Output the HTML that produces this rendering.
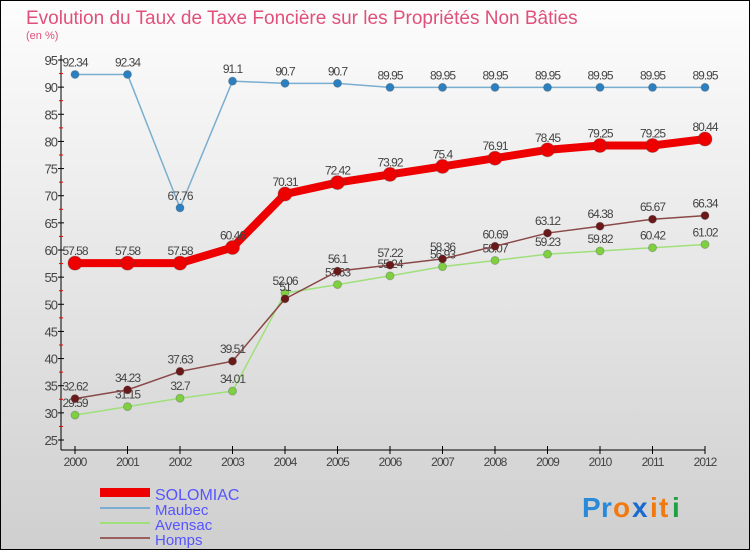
<!DOCTYPE html>
<html><head><meta charset="utf-8"><style>
body{margin:0}
svg text{font-family:"Liberation Sans",sans-serif}
</style></head><body>
<svg width="750" height="550" xmlns="http://www.w3.org/2000/svg">
<defs><linearGradient id="bg" x1="0" y1="0" x2="0" y2="1"><stop offset="0" stop-color="#fdfdfd"/><stop offset="1" stop-color="#cfcfcf"/></linearGradient></defs>
<rect x="0.5" y="0.5" width="749" height="549" fill="url(#bg)" stroke="#000"/>
<text x="26" y="24" font-size="19" fill="#e0507a">Evolution du Taux de Taxe Foncière sur les Propriétés Non Bâties</text>
<text x="26" y="39" font-size="11" fill="#e0507a">(en %)</text>
<g id="axes"></g>
<g id="series"></g>
<g>
<rect x="100" y="488" width="50" height="9" fill="#e00"/>
<text x="155" y="500" font-size="16" fill="#55f">SOLOMIAC</text>
<rect x="100" y="507" width="50" height="2" fill="#7aaed0"/>
<text x="155" y="515" font-size="15" fill="#55f">Maubec</text>
<rect x="100" y="522" width="50" height="2" fill="#9fe07a"/>
<text x="155" y="530" font-size="15" fill="#55f">Avensac</text>
<rect x="100" y="537" width="50" height="2" fill="#9a6060"/>
<text x="155" y="545" font-size="15" fill="#55f">Homps</text>
</g>
<g font-size="28" font-weight="bold">
<text x="582" y="517" fill="#2a8ad8">P</text><text x="601" y="517" fill="#2a8ad8">r</text><text x="613" y="517" fill="#f07a10">o</text><text x="632" y="517" fill="#1a6ad0">x</text><text x="650" y="517" fill="#f07a10">i</text><text x="659" y="517" fill="#f07a10">t</text><text x="672" y="517" fill="#20a040">i</text>
</g>
</svg>
<script>
const years=[2000,2001,2002,2003,2004,2005,2006,2007,2008,2009,2010,2011,2012];
const solomiac=[57.58,57.58,57.58,60.46,70.31,72.42,73.92,75.4,76.91,78.45,79.25,79.25,80.44];
const maubec=[92.34,92.34,67.76,91.1,90.7,90.7,89.95,89.95,89.95,89.95,89.95,89.95,89.95];
const avensac=[29.59,31.15,32.7,34.01,52.06,53.63,55.24,56.93,58.07,59.23,59.82,60.42,61.02];
const homps=[32.62,34.23,37.63,39.51,51,56.1,57.22,58.36,60.69,63.12,64.38,65.67,66.34];
const yTicks=[25,30,35,40,45,50,55,60,65,70,75,80,85,90,95];
const NS='http://www.w3.org/2000/svg';
const X=i=>75+i*(705-75)/(years.length-1);
const Y=v=>440-(v-25)*(440-60)/70;
function mk(t,a,p){const e=document.createElementNS(NS,t);for(const k in a)e.setAttribute(k,a[k]);p.appendChild(e);return e;}
const ax=document.getElementById('axes');
const yl=mk('line',{x1:61,y1:55,x2:61,y2:450,stroke:'#000'},ax);


const xl=mk('line',{x1:61,y1:450,x2:705,y2:450,stroke:'#000'},ax);


yTicks.forEach(v=>{
 mk('line',{x1:58,x2:64,y1:Y(v),y2:Y(v),stroke:'#000'},ax);
 if(v<95) mk('line',{x1:59,x2:63,y1:Y(v+2.5),y2:Y(v+2.5),stroke:'#e00'},ax);
 const t=mk('text',{x:57,y:Y(v)+5,'font-size':13,fill:'#444','text-anchor':'end','letter-spacing':'-1'},ax);
 t.textContent=v;
 
 
});
years.forEach((y,i)=>{
 mk('line',{x1:X(i),x2:X(i),y1:446,y2:454,stroke:'#000'},ax);
 const t=mk('text',{x:X(i),y:466,'font-size':12,fill:'#444','text-anchor':'middle','letter-spacing':'-1'},ax);
 t.textContent=y;
 
 
});
const sg=document.getElementById('series');
function draw(name,data,color,w,r,dot){
 const g=mk('g',{},sg);
 
 
 const p=mk('polyline',{points:data.map((v,i)=>X(i)+','+Y(v)).join(' '),fill:'none',stroke:color,'stroke-width':w,'stroke-linejoin':'round'},g);
 
 
 data.forEach((v,i)=>{
  const c=mk('circle',{cx:X(i),cy:Y(v),r:r,fill:dot,stroke:'#444','stroke-opacity':0.3},g);
  
  
  const t=mk('text',{x:X(i),y:Y(v)-8,'font-size':12,fill:'#444','text-anchor':'middle','letter-spacing':'-1'},g);
  t.textContent=v;
  
  
 });
}
draw('avensac',avensac,'#9fe07a',1.5,4,'#7ed040');
draw('homps',homps,'#8a4848',1.5,4,'#6a1818');
draw('maubec',maubec,'#7aaed0',1.5,4,'#2a80c0');
draw('solomiac',solomiac,'#e00',8,7,'#e00');
</script>
</body></html>
